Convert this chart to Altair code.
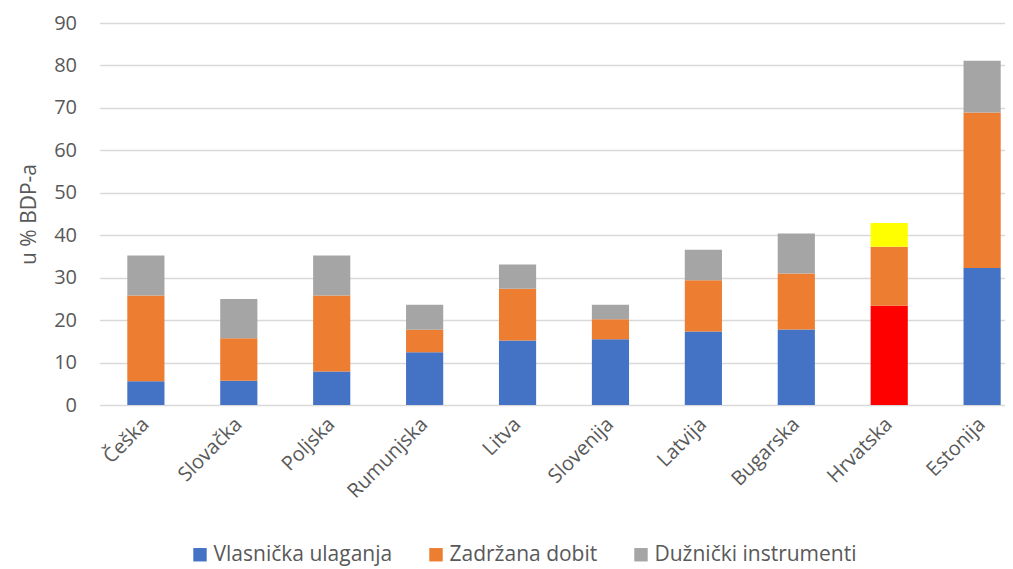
import altair as alt
import pandas as pd

countries = ["Češka", "Slovačka", "Poljska", "Rumunjska", "Litva",
             "Slovenija", "Latvija", "Bugarska", "Hrvatska", "Estonija"]
series = ["Vlasnička ulaganja", "Zadržana dobit", "Dužnički instrumenti"]
vlasnicka = [5.6, 5.7, 7.9, 12.4, 15.2, 15.5, 17.3, 17.8, 23.4, 32.3]
zadrzana = [20.2, 10.0, 17.9, 5.3, 12.2, 4.7, 12.1, 13.2, 13.9, 36.6]
duznicki = [9.4, 9.3, 9.4, 5.9, 5.7, 3.4, 7.2, 9.4, 5.6, 12.2]

highlight_country = "Hrvatska"
series_colors = ["#4472C4", "#ED7D31", "#A5A5A5"]
highlight_keys = ["Hrvatska – vlasnička ulaganja", "Zadržana dobit", "Hrvatska – dužnički instrumenti"]
highlight_colors = ["#FF0000", "#ED7D31", "#FFFF00"]

rows = []
for i, c in enumerate(countries):
    for j, (s, vals) in enumerate(zip(series, [vlasnicka, zadrzana, duznicki])):
        key = highlight_keys[j] if c == highlight_country else s
        rows.append({"country": c, "series": s, "key": key, "value": vals[i], "idx": j})
df = pd.DataFrame(rows)

domain = series + [highlight_keys[0], highlight_keys[2]]
rng = series_colors + [highlight_colors[0], highlight_colors[2]]

FONT = "Open Sans"
TXT = "#595959"

chart = alt.Chart(df).mark_bar().encode(
    x=alt.X("country:N", sort=countries, title=None,
            scale=alt.Scale(paddingInner=0.6, paddingOuter=0.17, align=0.88),
            axis=alt.Axis(labelAngle=-45, labelAlign="right", labelBaseline="middle",
                          labelPadding=16, ticks=False, domain=False,
                          labelFontSize=20, labelColor=TXT, labelFont=FONT)),
    y=alt.Y("value:Q", stack="zero", title="u % BDP-a",
            scale=alt.Scale(domain=[0, 90], nice=False),
            axis=alt.Axis(values=list(range(0, 91, 10)), ticks=False, domain=False,
                          gridColor="#D9D9D9", gridWidth=1.5,
                          labelPadding=23, labelFontSize=20, labelColor=TXT, labelFont=FONT,
                          titleFontSize=21, titleColor=TXT, titleFont=FONT,
                          titleFontWeight="normal", titlePadding=14)),
    color=alt.Color("key:N", scale=alt.Scale(domain=domain, range=rng),
                    legend=alt.Legend(values=series, title=None, orient="none",
                                      direction="horizontal", legendX=90, legendY=521,
                                      symbolType="square", symbolSize=180,
                                      symbolStrokeWidth=0, labelOffset=3,
                                      columnPadding=33, labelFontSize=21,
                                      labelColor=TXT, labelFont=FONT, labelLimit=400)),
    order=alt.Order("idx:Q"),
    tooltip=["country", "series", "value"],
).properties(
    width=905, height=382,
    autosize=alt.AutoSizeParams(type="none"),
    padding={"left": 91.5, "top": 15, "right": 0, "bottom": 164},
).configure_view(stroke=None)

chart.save("out.html", embed_options={"renderer": "svg", "actions": False})
